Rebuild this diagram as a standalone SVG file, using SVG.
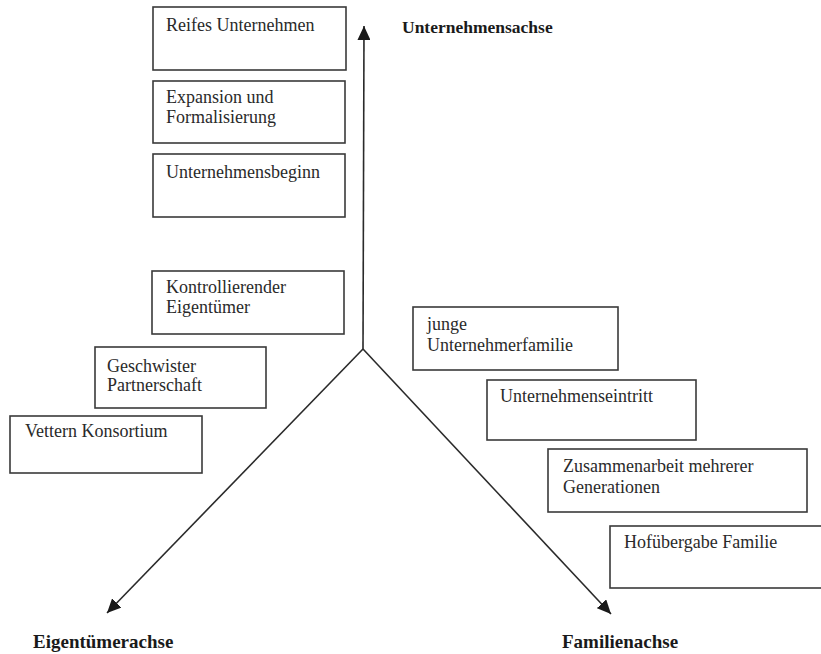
<svg xmlns="http://www.w3.org/2000/svg" width="821" height="654" viewBox="0 0 821 654">
<style>
.box{fill:#fff;stroke:#3a3a3a;stroke-width:1.6}
.t{font-family:"Liberation Serif","Times New Roman",serif;font-size:18px;fill:#2a2a2a}
.axis{fill:none;stroke:#2a2a2a;stroke-width:1.6}
.lbl{font-family:"Liberation Serif","Times New Roman",serif;font-weight:bold;fill:#1a1a1a}
</style>
<defs>
<marker id="arr" viewBox="0 0 14 13" refX="14" refY="6.5" markerWidth="14" markerHeight="13" markerUnits="userSpaceOnUse" orient="auto">
<path d="M0,0 L14,6.5 L0,13 z" fill="#1a1a1a"/>
</marker>
</defs>
<rect width="821" height="654" fill="#fff"/>
<g id="connectors">
<line class="axis" x1="363" y1="349" x2="364" y2="26" marker-end="url(#arr)"/>
<line class="axis" x1="363" y1="349" x2="107" y2="613" marker-end="url(#arr)"/>
<line class="axis" x1="363" y1="349" x2="611" y2="614" marker-end="url(#arr)"/>
</g>
<g id="n-reifes"><rect class="box" x="153" y="7" width="193" height="63"/><text class="t" x="166" y="31">Reifes Unternehmen</text></g>
<g id="n-expansion"><rect class="box" x="153" y="81" width="192" height="62"/><text class="t" x="166" y="103">Expansion und</text><text class="t" x="166" y="123">Formalisierung</text></g>
<g id="n-beginn"><rect class="box" x="153" y="154" width="192" height="63"/><text class="t" x="166" y="178">Unternehmensbeginn</text></g>
<g id="n-kontroll"><rect class="box" x="152" y="271" width="192" height="63"/><text class="t" x="166" y="293">Kontrollierender</text><text class="t" x="166" y="313">Eigentümer</text></g>
<g id="n-geschwister"><rect class="box" x="95" y="347" width="171" height="61"/><text class="t" x="107" y="372">Geschwister</text><text class="t" x="107" y="391">Partnerschaft</text></g>
<g id="n-vettern"><rect class="box" x="10" y="416" width="192" height="57"/><text class="t" x="25" y="437">Vettern Konsortium</text></g>
<g id="n-junge"><rect class="box" x="413" y="307" width="205" height="63"/><text class="t" x="427" y="330">junge</text><text class="t" x="427" y="351">Unternehmerfamilie</text></g>
<g id="n-eintritt"><rect class="box" x="487" y="380" width="209" height="60"/><text class="t" x="500" y="402">Unternehmenseintritt</text></g>
<g id="n-zusammen"><rect class="box" x="548" y="449" width="259" height="63"/><text class="t" x="563" y="472">Zusammenarbeit mehrerer</text><text class="t" x="563" y="493">Generationen</text></g>
<g id="n-hof"><rect class="box" x="610" y="526" width="213" height="62"/><text class="t" x="624" y="548">Hofübergabe Familie</text></g>
<g id="labels">
<text class="lbl" x="402" y="33" font-size="17.5">Unternehmensachse</text>
<text class="lbl" x="33" y="648" font-size="19">Eigentümerachse</text>
<text class="lbl" x="562" y="648" font-size="19">Familienachse</text>
</g>
</svg>
